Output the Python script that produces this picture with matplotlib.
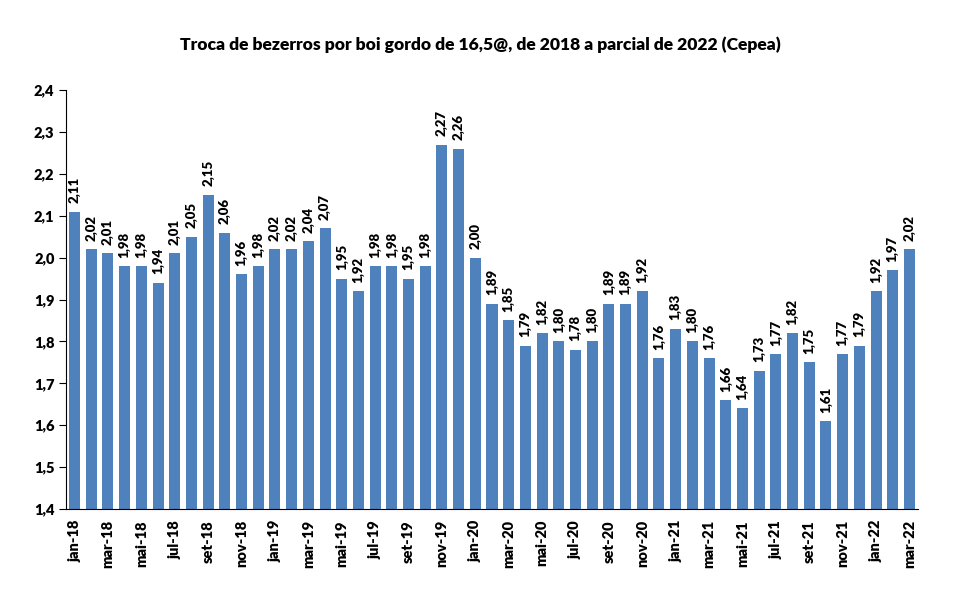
import numpy as np
import matplotlib
matplotlib.use("Agg")
import matplotlib.pyplot as plt

plt.rcParams['font.family'] = ['Lato', 'DejaVu Sans']

# Meses de jan-18 a mar-22
meses = ["jan", "fev", "mar", "abr", "mai", "jun", "jul", "ago", "set", "out", "nov", "dez"]
anos = ["18", "19", "20", "21", "22"]
rotulos = [m + "-" + a for a in anos for m in meses][:51]

valores = [2.11, 2.02, 2.01, 1.98, 1.98, 1.94, 2.01, 2.05, 2.15, 2.06, 1.96, 1.98,
           2.02, 2.02, 2.04, 2.07, 1.95, 1.92, 1.98, 1.98, 1.95, 1.98, 2.27, 2.26,
           2.00, 1.89, 1.85, 1.79, 1.82, 1.80, 1.78, 1.80, 1.89, 1.89, 1.92, 1.76,
           1.83, 1.80, 1.76, 1.66, 1.64, 1.73, 1.77, 1.82, 1.75, 1.61, 1.77, 1.79,
           1.92, 1.97, 2.02]

x = np.arange(len(valores))

fig = plt.figure(figsize=(9.6, 5.93), dpi=100)
ax = fig.add_axes([0.069, 0.1417, 0.887, 0.7063])

ax.bar(x, valores, width=0.66, color="#4F81BD", zorder=2)

for xi, v in zip(x, valores):
    ax.text(xi, v + 0.02, f"{v:.2f}".replace(".", ","), rotation=90,
            ha="center", va="bottom", fontsize=9.5, fontweight="heavy")

ax.set_ylim(1.4, 2.4)
ax.set_xlim(-0.5, len(valores) - 0.5)
yt = np.arange(1.4, 2.41, 0.1)
ax.set_yticks(yt)
ax.set_yticklabels([f"{t:.1f}".replace(".", ",") for t in yt], fontsize=10.5, fontweight="heavy")
ax.set_xticks(x[::2])
ax.set_xticklabels(rotulos[::2], rotation=90, fontsize=10.5, fontweight="heavy")
ax.tick_params(axis="x", length=0, pad=8)
ax.tick_params(axis="y", length=5, direction="out")

ax.spines['top'].set_visible(False)
ax.spines['right'].set_visible(False)

fig.text(0.5, 0.924, "Troca de bezerros por boi gordo de 16,5@, de 2018 a parcial de 2022 (Cepea)",
         ha="center", va="center", fontsize=12.6, fontweight="heavy")

plt.savefig("out.png", dpi=100)
